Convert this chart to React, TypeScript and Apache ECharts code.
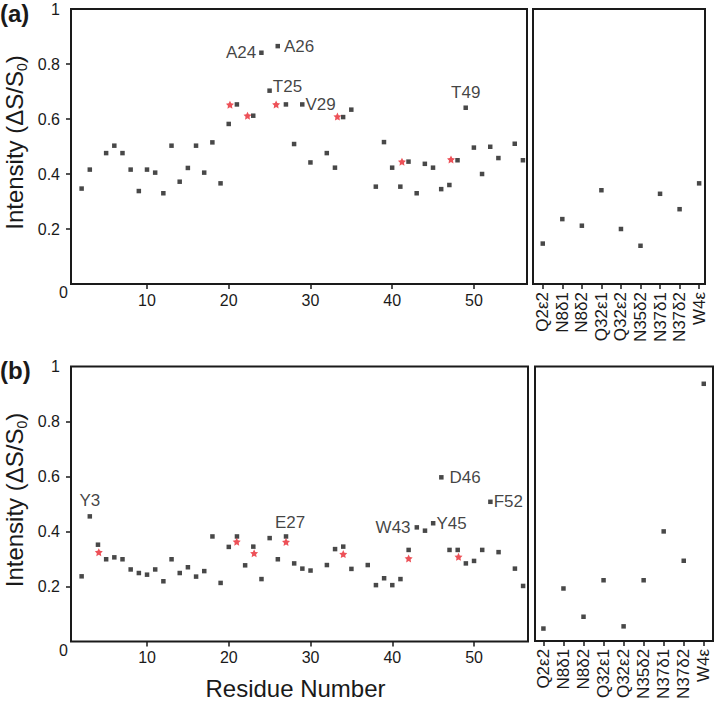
import React, { useEffect, useRef } from 'react';
import * as echarts from 'echarts';

// ---------- data ----------
const residuesA = [2, 3, 5, 6, 7, 8, 9, 10, 11, 12, 13, 14, 15, 16, 17, 18, 19, 20, 21, 23, 24, 25, 26, 27, 28, 29, 30, 32, 33, 34, 35, 38, 39, 40, 41, 42, 43, 44, 45, 46, 47, 48, 49, 50, 51, 52, 53, 55, 56];
const intensityA = [0.347, 0.416, 0.476, 0.503, 0.476, 0.416, 0.338, 0.416, 0.405, 0.33, 0.503, 0.372, 0.422, 0.503, 0.405, 0.515, 0.366, 0.582, 0.653, 0.612, 0.841, 0.703, 0.865, 0.653, 0.509, 0.653, 0.442, 0.476, 0.423, 0.607, 0.634, 0.354, 0.516, 0.423, 0.354, 0.445, 0.33, 0.437, 0.423, 0.345, 0.36, 0.45, 0.641, 0.496, 0.4, 0.499, 0.458, 0.51, 0.45];
const starXA = [20.15, 22.3, 25.8, 33.3, 41.2, 47.2];
const starYA = [0.652, 0.612, 0.653, 0.609, 0.445, 0.453];
const annotResA = [24, 25, 26, 29, 49];
const annotTextA = ['A24', 'T25', 'A26', 'V29', 'T49'];

const residuesB = [2, 3, 4, 5, 6, 7, 8, 9, 10, 11, 12, 13, 14, 15, 16, 17, 18, 19, 20, 21, 22, 23, 24, 25, 26, 27, 28, 29, 30, 32, 33, 34, 35, 37, 38, 39, 40, 41, 42, 43, 44, 45, 46, 47, 48, 49, 50, 51, 52, 53, 55, 56];
const intensityB = [0.237, 0.455, 0.352, 0.299, 0.306, 0.299, 0.262, 0.249, 0.243, 0.262, 0.219, 0.299, 0.249, 0.27, 0.236, 0.256, 0.382, 0.213, 0.344, 0.382, 0.277, 0.345, 0.227, 0.376, 0.299, 0.382, 0.284, 0.265, 0.258, 0.278, 0.336, 0.345, 0.264, 0.278, 0.205, 0.23, 0.205, 0.227, 0.333, 0.415, 0.403, 0.43, 0.597, 0.333, 0.333, 0.284, 0.293, 0.333, 0.508, 0.325, 0.265, 0.202];
const starXB = [4.1, 20.97, 23.1, 27, 34, 42, 48.1];
const starYB = [0.325, 0.363, 0.321, 0.362, 0.318, 0.302, 0.308];
const annotResB = [3, 27, 43, 45, 46, 52];
const annotTextB = ['Y3', 'E27', 'W43', 'Y45', 'D46', 'F52'];

const sideLabels = ['Q2ε2', 'N8δ1', 'N8δ2', 'Q32ε1', 'Q32ε2', 'N35δ2', 'N37δ1', 'N37δ2', 'W4ε'];
const sideA = [0.147, 0.236, 0.212, 0.341, 0.2, 0.139, 0.328, 0.272, 0.366];
const sideB = [0.045, 0.191, 0.088, 0.221, 0.053, 0.221, 0.399, 0.292, 0.937];

const xTicks = [10, 20, 30, 40, 50];
const yTickLabels = [0.2, 0.4, 0.6, 0.8, 1];
const yTickMarks = [0.2, 0.4, 0.6, 0.8];

// ---------- styling ----------
const FONT = '"Liberation Sans", Arial, Helvetica, sans-serif';
const INK = '#1a1a1a';
const RED = '#e8262e';
const STAR = 'path://M0,-10 L2.9,-4 9.5,-3.1 4.7,1.5 5.9,8.1 0,5 -5.9,8.1 -4.7,1.5 -9.5,-3.1 -2.9,-4 Z';

const placement: Record<string, any> = {
  A24: { position: 'left', distance: 3 },
  T25: { position: 'right', distance: 1, offset: [0, -4] },
  A26: { position: 'right', distance: 4 },
  V29: { position: 'right', distance: 1 },
  T49: { position: 'top', distance: 4 },
  Y3: { position: 'top', distance: 5 },
  E27: { position: 'top', distance: 3, offset: [4, 0] },
  W43: { position: 'left', distance: 4 },
  Y45: { position: 'right', distance: 1 },
  D46: { position: 'right', distance: 6 },
  F52: { position: 'right', distance: 1 },
};

function mainData(res: number[], vals: number[], annRes: number[], annText: string[]) {
  return res.map((r, i) => {
    const item: any = { value: [r, vals[i]] };
    const k = annRes.indexOf(r);
    if (k >= 0) {
      const t = annText[k];
      item.label = {
        show: true,
        formatter: t,
        fontSize: 17,
        color: '#111',
        fontFamily: FONT,
        ...placement[t],
      };
    }
    return item;
  });
}

function mainX(gridIndex: number, max: number) {
  return {
    gridIndex,
    type: 'value',
    min: 0.7,
    max,
    axisLine: { show: false },
    splitLine: { show: false },
    axisTick: { show: true, customValues: xTicks, length: 5, lineStyle: { color: INK, width: 1.5 } },
    axisLabel: { customValues: xTicks, fontSize: 16, color: INK, margin: 8, fontFamily: FONT },
  };
}

function mainY(gridIndex: number) {
  return {
    gridIndex,
    type: 'value',
    min: 0,
    max: 1,
    axisLine: { show: false },
    splitLine: { show: false },
    axisTick: { show: true, customValues: yTickMarks, length: 5, lineStyle: { color: INK, width: 1.5 } },
    axisLabel: { customValues: yTickLabels, fontSize: 16, color: INK, margin: 11, fontFamily: FONT },
  };
}

function sideX(gridIndex: number, min: number, max: number) {
  const idx = sideLabels.map((_, i) => i);
  return {
    gridIndex,
    type: 'value',
    min,
    max,
    axisLine: { show: false },
    splitLine: { show: false },
    axisTick: { show: true, customValues: idx, length: 5, lineStyle: { color: INK, width: 1.5 } },
    axisLabel: {
      customValues: idx,
      rotate: 90,
      fontSize: 17,
      color: INK,
      margin: 8,
      fontFamily: FONT,
      formatter: (v: number) => sideLabels[Math.round(v)] ?? '',
    },
  };
}

function sideY(gridIndex: number) {
  return { gridIndex, type: 'value', min: 0, max: 1, show: false, splitLine: { show: false } };
}

const gridStyle = { show: true, borderColor: INK, borderWidth: 2, backgroundColor: 'transparent', containLabel: false };

function yTitle(cy: number) {
  return {
    type: 'text',
    x: 14,
    y: cy,
    rotation: Math.PI / 2,
    style: {
      text: 'Intensity (ΔS/S{sub|0})',
      fontSize: 24,
      fontFamily: FONT,
      fill: INK,
      align: 'center',
      verticalAlign: 'middle',
      lineHeight: 30,
      rich: {
        sub: { fontSize: 14, lineHeight: 14, verticalAlign: 'bottom', fontFamily: FONT, fill: INK },
      },
    },
  };
}

export default function App() {
  const ref = useRef<HTMLDivElement>(null);
  useEffect(() => {
    if (!ref.current) return;
    const chart = echarts.init(ref.current, undefined, { renderer: 'svg' });
    const black = { color: INK };
    chart.setOption({
      animation: false,
      backgroundColor: '#ffffff',
      grid: [
        { ...gridStyle, left: 71, top: 9, width: 456, height: 275 },
        { ...gridStyle, left: 533, top: 9, width: 172, height: 275 },
        { ...gridStyle, left: 71, top: 366.5, width: 457, height: 275 },
        { ...gridStyle, left: 535, top: 366.5, width: 178, height: 275 },
      ],
      xAxis: [mainX(0, 56.5), sideX(1, -0.5, 8.3), mainX(2, 56.6), sideX(3, -0.42, 8.46)],
      yAxis: [mainY(0), sideY(1), mainY(2), sideY(3)],
      series: [
        {
          type: 'scatter', xAxisIndex: 0, yAxisIndex: 0, symbol: 'rect', symbolSize: 4.5,
          itemStyle: black, data: mainData(residuesA, intensityA, annotResA, annotTextA),
        },
        {
          type: 'scatter', xAxisIndex: 0, yAxisIndex: 0, symbol: STAR, symbolSize: 8,
          itemStyle: { color: RED }, data: starXA.map((x, i) => [x, starYA[i]]),
        },
        {
          type: 'scatter', xAxisIndex: 1, yAxisIndex: 1, symbol: 'rect', symbolSize: 4.5,
          itemStyle: black, data: sideA.map((v, i) => [i, v]),
        },
        {
          type: 'scatter', xAxisIndex: 2, yAxisIndex: 2, symbol: 'rect', symbolSize: 4.5,
          itemStyle: black, data: mainData(residuesB, intensityB, annotResB, annotTextB),
        },
        {
          type: 'scatter', xAxisIndex: 2, yAxisIndex: 2, symbol: STAR, symbolSize: 8,
          itemStyle: { color: RED }, data: starXB.map((x, i) => [x, starYB[i]]),
        },
        {
          type: 'scatter', xAxisIndex: 3, yAxisIndex: 3, symbol: 'rect', symbolSize: 4.5,
          itemStyle: black, data: sideB.map((v, i) => [i, v]),
        },
      ],
      graphic: [
        { type: 'text', x: 0, y: 13, style: { text: '(a)', fontSize: 24, fontWeight: 'bold', fontFamily: FONT, fill: INK, align: 'left', verticalAlign: 'middle' } },
        { type: 'text', x: 0, y: 370, style: { text: '(b)', fontSize: 24, fontWeight: 'bold', fontFamily: FONT, fill: INK, align: 'left', verticalAlign: 'middle' } },
        { type: 'text', x: 63.5, y: 292.5, style: { text: '0', fontSize: 16, fontFamily: FONT, fill: INK, align: 'center', verticalAlign: 'middle' } },
        { type: 'text', x: 63.5, y: 650, style: { text: '0', fontSize: 16, fontFamily: FONT, fill: INK, align: 'center', verticalAlign: 'middle' } },
        yTitle(142.5),
        yTitle(500),
        { type: 'text', x: 295.5, y: 688, style: { text: 'Residue Number', fontSize: 24, fontFamily: FONT, fill: INK, align: 'center', verticalAlign: 'middle' } },
      ],
    });
    return () => chart.dispose();
  }, []);
  return <div ref={ref} style={{ position: 'fixed', left: 0, top: 0, width: 715, height: 702 }} />;
}
